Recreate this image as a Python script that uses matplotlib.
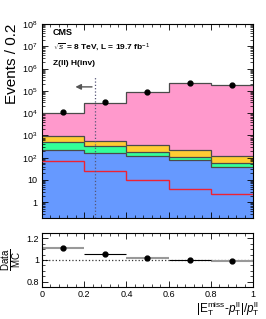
import numpy as np
import matplotlib
matplotlib.use("Agg")
import matplotlib.pyplot as plt
from matplotlib.ticker import MultipleLocator, LogLocator, NullFormatter, FixedLocator

plt.rcParams['font.family'] = ['Liberation Sans', 'DejaVu Sans']
plt.rcParams['mathtext.fontset'] = 'custom'
plt.rcParams['mathtext.rm'] = 'Liberation Sans'
plt.rcParams['mathtext.it'] = 'Liberation Sans:italic'
plt.rcParams['mathtext.bf'] = 'Liberation Sans:bold'

# ---- data ----
bin_edges = [0.0, 0.2, 0.4, 0.6, 0.8, 1.0]
bkg_blue = [222, 170, 120, 80, 38]
bkg_green = [268, 160, 66, 32, 19]
bkg_yellow = [430, 245, 184, 108, 63]
bkg_pink = [9080, 28400, 89600, 219800, 179900]
signal_red = [74, 26, 9.7, 4.0, 2.4]
data_vals = [11100, 30400, 91800, 220500, 177000]
ratio_vals = [1.114, 1.058, 1.02, 1.0, 0.988]
cut_value = 0.25

edges = np.array(bin_edges)
centers = 0.5 * (edges[:-1] + edges[1:])
halfw = 0.5 * (edges[1:] - edges[:-1])

layers = [bkg_blue, bkg_green, bkg_yellow, bkg_pink]
colors = ['#6699ff', '#33ff99', '#ffcc33', '#ff99cc']

fig = plt.figure(figsize=(2.66, 3.19), dpi=100)
ax = fig.add_axes([0.158, 0.317, 0.793, 0.608])
rx = fig.add_axes([0.158, 0.100, 0.793, 0.170])

ymin = 0.2
cum = np.zeros(len(centers))
tops = []
for vals in layers:
    cum = cum + np.array(vals, dtype=float)
    tops.append(cum.copy())
for top, c in reversed(list(zip(tops, colors))):
    ax.stairs(top, edges, baseline=ymin, fill=True, color=c, zorder=1)
for top in tops:
    ax.stairs(top, edges, baseline=None, color='#4a4a4a', lw=0.9, zorder=2)

ax.stairs(signal_red, edges, baseline=None, color='#ee2233', lw=1.0, zorder=3)

ax.errorbar(centers, data_vals, yerr=np.sqrt(data_vals), fmt='o',
            color='black', ms=3.5, lw=0.8, zorder=5)

ax.plot([cut_value, cut_value], [ymin, 4e5], ls=':', color='#555577', lw=0.9, zorder=4)
ax.annotate('', xy=(0.145, 1.5e5), xytext=(cut_value, 1.5e5),
            arrowprops=dict(arrowstyle='-|>', color='#555555', lw=1.0,
                            mutation_scale=8), zorder=6)

ax.set_yscale('log')
ax.set_xlim(0, 1)
ax.set_ylim(ymin, 1e8)
ax.yaxis.set_major_locator(FixedLocator([1, 10, 100, 1e3, 1e4, 1e5, 1e6, 1e7, 1e8]))
ax.set_yticklabels(['1', '10', r'$10^{2}$', r'$10^{3}$', r'$10^{4}$', r'$10^{5}$',
                    r'$10^{6}$', r'$10^{7}$', r'$10^{8}$'])
ax.yaxis.set_minor_locator(LogLocator(base=10, subs=np.arange(2, 10), numticks=20))
ax.yaxis.set_minor_formatter(NullFormatter())
ax.xaxis.set_major_locator(MultipleLocator(0.2))
ax.xaxis.set_minor_locator(MultipleLocator(0.04))
ax.tick_params(axis='both', which='both', direction='in', top=True, right=True,
               labelsize=6.5)
ax.tick_params(which='major', length=4, width=0.6)
ax.tick_params(which='minor', length=2, width=0.5)
ax.tick_params(axis='x', labelbottom=False)
ax.set_ylabel('Events / 0.2', fontsize=11, ha='right', y=1.0, labelpad=2)

ax.text(0.052, 0.954, 'CMS', transform=ax.transAxes, fontsize=6.5, fontweight='bold',
        va='center')
ax.text(0.052, 0.878, r'$\sqrt{s}$ = 8 TeV, L = 19.7 fb$^{-1}$', transform=ax.transAxes,
        fontsize=6, fontweight='bold', va='center')
ax.text(0.052, 0.796, 'Z(ll) H(inv)', transform=ax.transAxes, fontsize=6,
        fontweight='bold', va='center')

# ratio panel
rx.axhline(1.0, color='#333333', ls=':', lw=0.9, zorder=1)
grey_idx = [0, 2, 4]
black_idx = [1, 3]
rx.errorbar(centers[grey_idx], np.array(ratio_vals)[grey_idx], xerr=halfw[grey_idx],
            fmt='none', ecolor='#999999', lw=1.5, zorder=2)
rx.errorbar(centers[black_idx], np.array(ratio_vals)[black_idx], xerr=halfw[black_idx],
            fmt='none', ecolor='black', lw=0.8, zorder=2)
rx.plot(centers, ratio_vals, 'o', color='black', ms=3.5, zorder=3)
rx.set_xlim(0, 1)
rx.set_ylim(0.75, 1.25)
rx.yaxis.set_major_locator(FixedLocator([0.8, 1.0, 1.2]))
rx.set_yticklabels(['0.8', '1', '1.2'])
rx.yaxis.set_minor_locator(MultipleLocator(0.05))
rx.xaxis.set_major_locator(FixedLocator([0, 0.2, 0.4, 0.6, 0.8, 1.0]))
rx.set_xticklabels(['0', '0.2', '0.4', '0.6', '0.8', '1'])
rx.xaxis.set_minor_locator(MultipleLocator(0.04))
rx.tick_params(axis='both', which='both', direction='in', top=True, right=True,
               labelsize=6.5, pad=2)
rx.tick_params(which='major', length=4, width=0.6)
rx.tick_params(which='minor', length=2, width=0.5)
rx.set_ylabel(r'$\frac{\mathrm{Data}}{\mathrm{MC}}$', fontsize=10, labelpad=2)
rx.set_xlabel(r'$|\mathrm{E}_{\mathrm{T}}^{\mathrm{miss}}$-$p_{\mathrm{T}}^{\mathrm{ll}}|/p_{\mathrm{T}}^{\mathrm{ll}}$',
              fontsize=8.5, ha='right', x=1.03, labelpad=0)

fig.savefig('out.png', dpi=100)
